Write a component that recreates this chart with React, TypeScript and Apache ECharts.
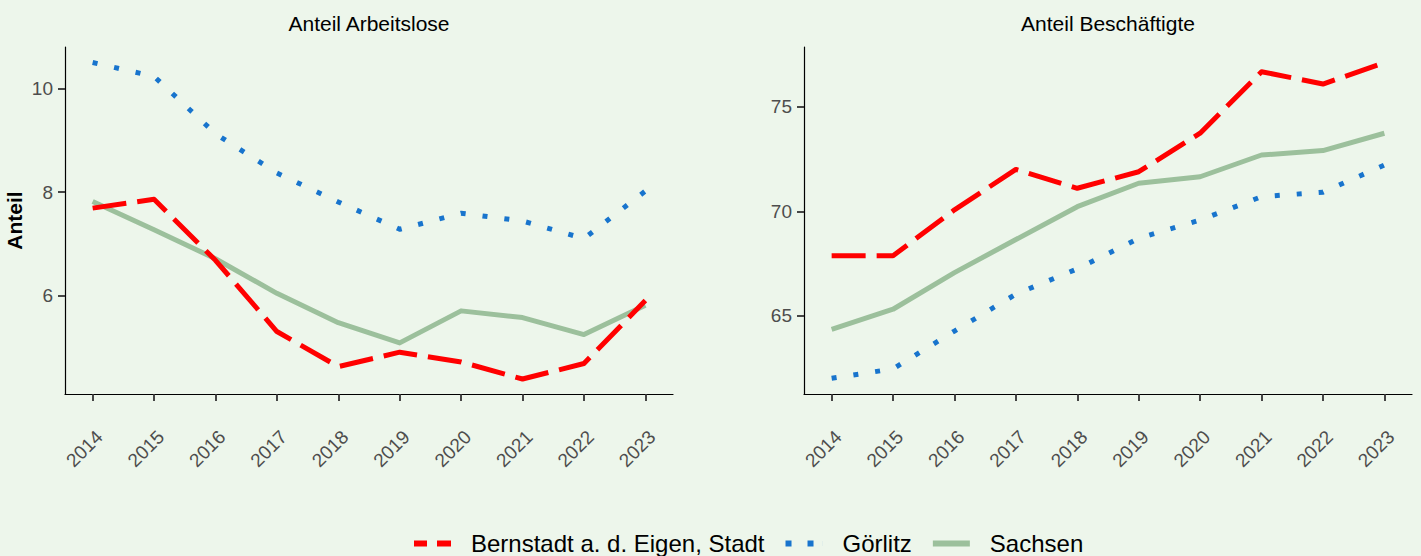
import React, { useEffect, useRef } from "react";
import * as echarts from "echarts";

const years = [2014, 2015, 2016, 2017, 2018, 2019, 2020, 2021, 2022, 2023];

const seriesNames = ["Bernstadt a. d. Eigen, Stadt", "Görlitz", "Sachsen"];
const panelTitles = ["Anteil Arbeitslose", "Anteil Beschäftigte"];
const yAxisTitle = "Anteil";

// Anteil Arbeitslose
const bernstadtArbeitslose = [7.69, 7.86, 6.68, 5.3, 4.62, 4.9, 4.71, 4.38, 4.68, 5.9];
const goerlitzArbeitslose = [10.51, 10.24, 9.13, 8.37, 7.81, 7.28, 7.59, 7.44, 7.1, 8.02];
const sachsenArbeitslose = [7.82, 7.27, 6.71, 6.04, 5.47, 5.08, 5.7, 5.57, 5.24, 5.81];

// Anteil Beschäftigte
const bernstadtBeschaeftigte = [67.87, 67.88, 70.07, 72.0, 71.1, 71.89, 73.73, 76.67, 76.08, 77.1];
const goerlitzBeschaeftigte = [62.02, 62.47, 64.28, 66.04, 67.25, 68.71, 69.58, 70.7, 70.91, 72.21];
const sachsenBeschaeftigte = [64.36, 65.32, 67.07, 68.65, 70.22, 71.34, 71.65, 72.69, 72.9, 73.73];

const leftTicks = [6, 8, 10];
const rightTicks = [65, 70, 75];

const FONT = '"Liberation Sans", Arial, Helvetica, sans-serif';
const BG = "#EDF6EB";
const RED = "#FF0000";
const BLUE = "#1874CD";
const GREEN = "#9CC09C";

const pairs = (vals: number[]) => years.map((y, i) => [y, vals[i]]);

export default function App() {
  const ref = useRef<HTMLDivElement>(null);
  useEffect(() => {
    if (!ref.current) return;
    const chart = echarts.init(ref.current, null, { renderer: "svg" });

    const xAxis = (gridIndex: number) => ({
      type: "value",
      gridIndex,
      min: 2013.55,
      max: 2023.45,
      axisLine: { show: true, onZero: false, lineStyle: { color: "#000", width: 1.2 } },
      axisTick: { show: true, length: 7, customValues: years, lineStyle: { color: "#333", width: 1.8 } },
      axisLabel: {
        customValues: years,
        rotate: 45,
        align: "right",
        verticalAlign: "top",
        margin: 33,
        color: "#4D4D4D",
        fontSize: 19,
        fontFamily: FONT,
        formatter: (v: number) => String(v),
      },
      splitLine: { show: false },
    });

    const yAxis = (gridIndex: number, min: number, max: number, ticks: number[]) => ({
      type: "value",
      gridIndex,
      min,
      max,
      axisLine: { show: true, onZero: false, lineStyle: { color: "#000", width: 1.2 } },
      axisTick: { show: true, length: 7, customValues: ticks, lineStyle: { color: "#333", width: 1.8 } },
      axisLabel: {
        customValues: ticks,
        margin: 12,
        color: "#4D4D4D",
        fontSize: 19,
        fontFamily: FONT,
        formatter: (v: number) => String(v),
      },
      splitLine: { show: false },
    });

    const line = (name: string, color: string, type: any, data: number[], idx: number, z: number) => ({
      type: "line",
      name,
      color,
      xAxisIndex: idx,
      yAxisIndex: idx,
      data: pairs(data),
      symbol: "none",
      z,
      lineStyle: { color, width: 5, type, cap: "butt", join: "round" },
    });

    const option: any = {
      animation: false,
      backgroundColor: BG,
      textStyle: { fontFamily: FONT },
      grid: [
        { left: 65, top: 47, width: 608, height: 347 },
        { left: 804, top: 47, width: 608, height: 347 },
      ],
      xAxis: [xAxis(0), xAxis(1)],
      yAxis: [yAxis(0, 4.09, 10.81, leftTicks), yAxis(1, 61.27, 77.85, rightTicks)],
      legend: {
        left: 414,
        top: 531.5,
        padding: 0,
        itemWidth: 37,
        itemHeight: 6,
        itemGap: 21,
        selectedMode: false,
        textStyle: { fontSize: 24, color: "#000", fontFamily: FONT, padding: [0, 0, 0, 15] },
        data: [
          { name: seriesNames[0], icon: "path://M0,0h13v6h-13zM23,0h14v6h-14z" },
          { name: seriesNames[1], icon: "path://M0,0h6v6h-6zM22,0h6v6h-6zM36.95,0h0.05v6h-0.05z" },
          { name: seriesNames[2], icon: "path://M0,0h37v6h-37z" },
        ],
      },
      graphic: [
        {
          type: "text",
          x: 369,
          y: 23,
          style: { text: panelTitles[0], fontSize: 21, fontFamily: FONT, fill: "#000", align: "center", verticalAlign: "middle" },
        },
        {
          type: "text",
          x: 1108,
          y: 23,
          style: { text: panelTitles[1], fontSize: 21, fontFamily: FONT, fill: "#000", align: "center", verticalAlign: "middle" },
        },
        {
          type: "text",
          x: 14.5,
          y: 220.5,
          rotation: Math.PI / 2,
          style: { text: yAxisTitle, fontSize: 21, fontWeight: "bold", fontFamily: FONT, fill: "#000", align: "center", verticalAlign: "middle" },
        },
      ],
      series: [
        line(seriesNames[2], GREEN, "solid", sachsenArbeitslose, 0, 2),
        line(seriesNames[1], BLUE, [5, 17], goerlitzArbeitslose, 0, 3),
        line(seriesNames[0], RED, [34, 11], bernstadtArbeitslose, 0, 4),
        line(seriesNames[2], GREEN, "solid", sachsenBeschaeftigte, 1, 2),
        line(seriesNames[1], BLUE, [5, 17], goerlitzBeschaeftigte, 1, 3),
        line(seriesNames[0], RED, [34, 11], bernstadtBeschaeftigte, 1, 4),
      ],
    };
    chart.setOption(option);
    return () => chart.dispose();
  }, []);
  return (
    <div
      ref={ref}
      style={{ position: "absolute", left: 0, top: 0, width: 1421, height: 556 }}
    />
  );
}
